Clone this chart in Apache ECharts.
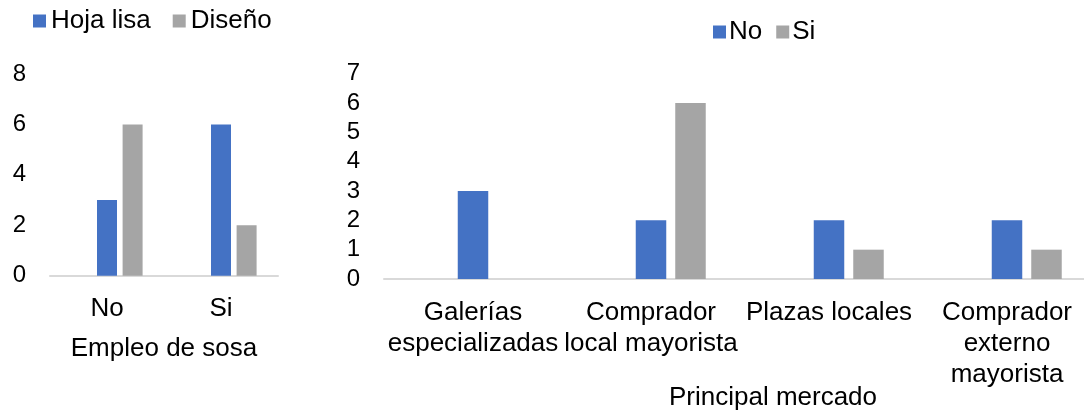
<!DOCTYPE html>
<html>
<head>
<meta charset="utf-8">
<script src="https://cdn.jsdelivr.net/npm/echarts@6/dist/echarts.min.js"></script>
<style>
  html, body { margin: 0; padding: 0; background: #fff; }
  #chart { width: 1084px; height: 411px; }
</style>
</head>
<body>
<div id="chart"></div>
<script>
// Left panel: Empleo de sosa
const sosaCategories = ['No', 'Si'];
const hojaLisa = [3, 6];
const diseno = [6, 2];
const sosaTicks = [0, 2, 4, 6, 8];

// Right panel: Principal mercado
const mercadoCategories = [
  'Galerías\nespecializadas',
  'Comprador\nlocal mayorista',
  'Plazas locales',
  'Comprador\nexterno\nmayorista'
];
const mercadoNo = [3, 2, 2, 2];
const mercadoSi = [0, 6, 1, 1];
const mercadoTicks = [0, 1, 2, 3, 4, 5, 6, 7];

// Empty leading series in each panel (keeps its slot in the bar cluster)
const sosaEmpty = [null, null];
const mercadoEmpty = [null, null, null, null];

const BLUE = '#4472C4';
const GRAY = '#A5A5A5';
const FONT = '"Liberation Sans", Arial, sans-serif';
const AXIS_GRAY = '#D9D9D9';

const chart = echarts.init(document.getElementById('chart'), null, { renderer: 'canvas' });

const baseText = { fontFamily: FONT, color: '#000' };

function valueAxis(gridIndex, ticks) {
  return {
    type: 'value',
    gridIndex,
    min: ticks[0],
    max: ticks[ticks.length - 1],
    interval: ticks[1] - ticks[0],
    axisLine: { show: false },
    axisTick: { show: false },
    splitLine: { show: false },
    axisLabel: Object.assign({}, baseText, { fontSize: 24, margin: 24 })
  };
}

function categoryAxis(gridIndex, cats, name, nameGap, namePad, labelMargin) {
  return {
    type: 'category',
    gridIndex,
    data: cats,
    axisLine: { show: true, lineStyle: { color: AXIS_GRAY, width: 2 } },
    axisTick: { show: false },
    axisLabel: Object.assign({}, baseText, {
      fontSize: 26, interval: 0, margin: labelMargin, lineHeight: 31
    }),
    name: name,
    nameLocation: 'middle',
    nameGap: nameGap,
    nameMoveOverlap: false,
    nameTextStyle: Object.assign({}, baseText, { fontSize: 26, padding: namePad })
  };
}

function bar(name, data, color, xi, width, gap) {
  return {
    type: 'bar',
    name: name,
    data: data,
    xAxisIndex: xi,
    yAxisIndex: xi,
    barWidth: width,
    barGap: gap,
    itemStyle: { color: color },
    emphasis: { disabled: true },
    animation: false
  };
}

chart.setOption({
  backgroundColor: '#fff',
  animation: false,
  legend: [
    {
      data: ['Hoja lisa', 'Diseño'],
      left: 33, top: 8, padding: 0,
      icon: 'rect', itemWidth: 13, itemHeight: 13, itemGap: 22,
      textStyle: Object.assign({}, baseText, { fontSize: 26 })
    },
    {
      data: ['No', 'Si'],
      left: 713, top: 19, padding: 0,
      icon: 'rect', itemWidth: 13, itemHeight: 13, itemGap: 14,
      textStyle: Object.assign({}, baseText, { fontSize: 26, padding: [0, 0, 0, -2] })
    }
  ],
  grid: [
    { left: 50, width: 228, top: 74, height: 201.7, outerBoundsMode: 'none', containLabel: false },
    { left: 384, width: 712, top: 73.7, height: 205.3, outerBoundsMode: 'none', containLabel: false }
  ],
  xAxis: [
    categoryAxis(0, sosaCategories, 'Empleo de sosa', 60, [0, 0, 0, 0], 18),
    categoryAxis(1, mercadoCategories, 'Principal mercado', 106, [0, 0, 0, 66], 18)
  ],
  yAxis: [
    valueAxis(0, sosaTicks),
    valueAxis(1, mercadoTicks)
  ],
  series: [
    bar('', sosaEmpty, 'transparent', 0, 20, '28%'),
    bar('Hoja lisa', hojaLisa, BLUE, 0, 20, '28%'),
    bar('Diseño', diseno, GRAY, 0, 20, '28%'),
    bar(' ', mercadoEmpty, 'transparent', 1, 30.5, '29.5%'),
    bar('No', mercadoNo, BLUE, 1, 30.5, '29.5%'),
    bar('Si', mercadoSi, GRAY, 1, 30.5, '29.5%')
  ]
});
</script>
</body>
</html>
